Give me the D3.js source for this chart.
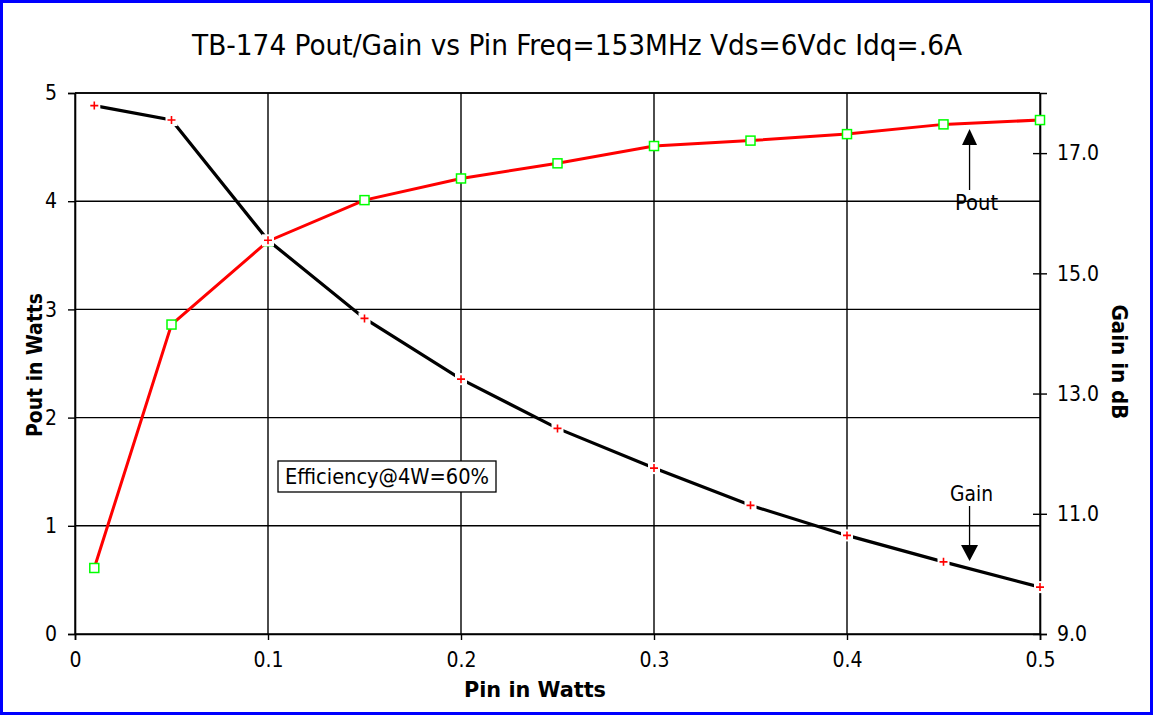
<!DOCTYPE html>
<html>
<head>
<meta charset="utf-8">
<script src="https://cdn.jsdelivr.net/npm/d3@7"></script>
<style>
  body { margin: 0; background: #fff; }
  text { font-family: "Liberation Sans Narrow", "DejaVu Sans Condensed", Arial, sans-serif; fill: #000; }
</style>
</head>
<body>
<script>
var svgWidth = 1153;
var svgHeight = 715;

// data
var pin = [0.01, 0.05, 0.1, 0.15, 0.2, 0.25, 0.3, 0.35, 0.4, 0.45, 0.5];
var pout = [0.61, 2.86, 3.63, 4.01, 4.21, 4.35, 4.51, 4.56, 4.62, 4.71, 4.75];
var gain = [17.79, 17.55, 15.55, 14.25, 13.24, 12.42, 11.76, 11.14, 10.64, 10.2, 9.78];
var xTicks = [0, 0.1, 0.2, 0.3, 0.4, 0.5];
var poutTicks = [0, 1, 2, 3, 4, 5];
var gainTicks = [9, 11, 13, 15, 17];

var pLeft = 75, pRight = 1040, pTop = 93, pBottom = 634;

var svg = d3.select('body').append('svg')
  .attr('width', svgWidth)
  .attr('height', svgHeight)

svg.append('rect')
  .attr('x', 1.5).attr('y', 1.5)
  .attr('width', svgWidth - 3).attr('height', svgHeight - 3)
  .attr('fill', '#fff').attr('stroke', '#0000ff').attr('stroke-width', 3)

var x = d3.scaleLinear().domain([0, 0.5]).range([pLeft, pRight]);
var yL = d3.scaleLinear().domain([0, 5]).range([pBottom, pTop]);
var yR = d3.scaleLinear().domain([9, 18]).range([pBottom, pTop]);

// grid
svg.append('g').selectAll('line').data(xTicks).enter().append('line')
  .attr('x1', function(d){return x(d)}).attr('x2', function(d){return x(d)})
  .attr('y1', pTop).attr('y2', pBottom)
  .attr('stroke', '#000').attr('stroke-width', 1.4)
svg.append('g').selectAll('line').data(poutTicks).enter().append('line')
  .attr('x1', pLeft).attr('x2', pRight)
  .attr('y1', function(d){return yL(d)}).attr('y2', function(d){return yL(d)})
  .attr('stroke', '#000').attr('stroke-width', 1.4)

// axes
var fmtX = function(d){ return d === 0 ? '0' : d3.format('.1f')(d) };
var gx = svg.append('g').attr('transform', 'translate(0,' + pBottom + ')')
  .call(d3.axisBottom(x).tickValues(xTicks).tickFormat(fmtX).tickSize(6).tickPadding(12));
var gl = svg.append('g').attr('transform', 'translate(' + pLeft + ',0)')
  .call(d3.axisLeft(yL).tickValues(poutTicks).tickFormat(d3.format('d')).tickSize(7).tickPadding(11));
var gr = svg.append('g').attr('transform', 'translate(' + pRight + ',0)')
  .call(d3.axisRight(yR).tickValues(gainTicks).tickFormat(d3.format('.1f')).tickSize(7).tickPadding(10));
gr.selectAll('.tick line').attr('x1', -7);

[gx, gl, gr].forEach(function(g){
  g.select('.domain').attr('stroke', '#000').attr('stroke-width', 1.6);
  g.selectAll('.tick line').attr('stroke', '#000').attr('stroke-width', 1.4);
  g.selectAll('.tick text').style('font-size', '21px').attr('fill', '#000');
});

svg.append('line').attr('x1', pLeft).attr('x2', pRight).attr('y1', pTop).attr('y2', pTop)
  .attr('stroke', '#000').attr('stroke-width', 1.6)

// Pout line
var lineP = d3.line().x(function(d, i){return x(pin[i])}).y(function(d){return yL(d)});
svg.append('path').datum(pout).attr('d', lineP)
  .attr('fill', 'none').attr('stroke', '#ff0000').attr('stroke-width', 3)
svg.selectAll('.sq').data(pout).enter().append('rect')
  .attr('x', function(d, i){return x(pin[i]) - 4.5})
  .attr('y', function(d){return yL(d) - 4.5})
  .attr('width', 9).attr('height', 9)
  .attr('fill', '#fff').attr('stroke', '#00ff00').attr('stroke-width', 1.5)

// Gain line
var lineG = d3.line().x(function(d, i){return x(pin[i])}).y(function(d){return yR(d)});
svg.append('path').datum(gain).attr('d', lineG)
  .attr('fill', 'none').attr('stroke', '#000').attr('stroke-width', 3.2)
svg.selectAll('.halo').data(gain).enter().append('rect')
  .attr('x', function(d, i){return x(pin[i]) - 6})
  .attr('y', function(d){return yR(d) - 6})
  .attr('width', 12).attr('height', 12)
  .attr('fill', '#fff')
svg.selectAll('.plus').data(gain).enter().append('path')
  .attr('d', function(d, i){
    var cx = x(pin[i]), cy = yR(d);
    return 'M' + (cx - 4) + ',' + cy + 'H' + (cx + 4) + 'M' + cx + ',' + (cy - 4) + 'V' + (cy + 4);
  })
  .attr('stroke', '#ff0000').attr('stroke-width', 1.6)

// titles
svg.append('text').text('TB-174 Pout/Gain vs Pin Freq=153MHz Vds=6Vdc Idq=.6A')
  .attr('x', 577).attr('y', 55).attr('text-anchor', 'middle')
  .attr('textLength', 770).attr('lengthAdjust', 'spacingAndGlyphs')
  .style('font-size', '28px')
svg.append('text').text('Pin in Watts')
  .attr('x', 535).attr('y', 697).attr('text-anchor', 'middle')
  .attr('textLength', 142).attr('lengthAdjust', 'spacingAndGlyphs')
  .style('font-size', '21px').style('font-weight', 'bold')
svg.append('text').text('Pout in Watts')
  .attr('transform', 'translate(42,365) rotate(-90)').attr('text-anchor', 'middle')
  .attr('textLength', 144).attr('lengthAdjust', 'spacingAndGlyphs')
  .style('font-size', '21px').style('font-weight', 'bold')
svg.append('text').text('Gain in dB')
  .attr('transform', 'translate(1112,362) rotate(90)').attr('text-anchor', 'middle')
  .attr('textLength', 115).attr('lengthAdjust', 'spacingAndGlyphs')
  .style('font-size', '21px').style('font-weight', 'bold')

// annotation box
svg.append('rect').attr('x', 278).attr('y', 461).attr('width', 218).attr('height', 31)
  .attr('fill', '#fff').attr('stroke', '#000').attr('stroke-width', 1.3)
svg.append('text').text('Efficiency@4W=60%')
  .attr('x', 387).attr('y', 484).attr('text-anchor', 'middle')
  .attr('textLength', 204).attr('lengthAdjust', 'spacingAndGlyphs')
  .style('font-size', '21px')

// arrows
var pX = x(0.4635);
svg.append('line').attr('x1', pX).attr('x2', pX).attr('y1', 190).attr('y2', 143)
  .attr('stroke', '#000').attr('stroke-width', 1.3)
svg.append('path').attr('d', 'M' + pX + ',129L' + (pX - 7.5) + ',145L' + (pX + 7.5) + ',145Z').attr('fill', '#000')
svg.append('text').text('Pout').attr('x', pX + 7).attr('y', 210).attr('text-anchor', 'middle')
  .attr('textLength', 43).attr('lengthAdjust', 'spacingAndGlyphs')
  .style('font-size', '21px')

svg.append('line').attr('x1', pX).attr('x2', pX).attr('y1', 506).attr('y2', 546)
  .attr('stroke', '#000').attr('stroke-width', 1.3)
svg.append('path').attr('d', 'M' + pX + ',561L' + (pX - 8.5) + ',545L' + (pX + 8.5) + ',545Z').attr('fill', '#000')
svg.append('text').text('Gain').attr('x', pX + 2).attr('y', 501).attr('text-anchor', 'middle')
  .attr('textLength', 43).attr('lengthAdjust', 'spacingAndGlyphs')
  .style('font-size', '21px')
</script>
</body>
</html>
